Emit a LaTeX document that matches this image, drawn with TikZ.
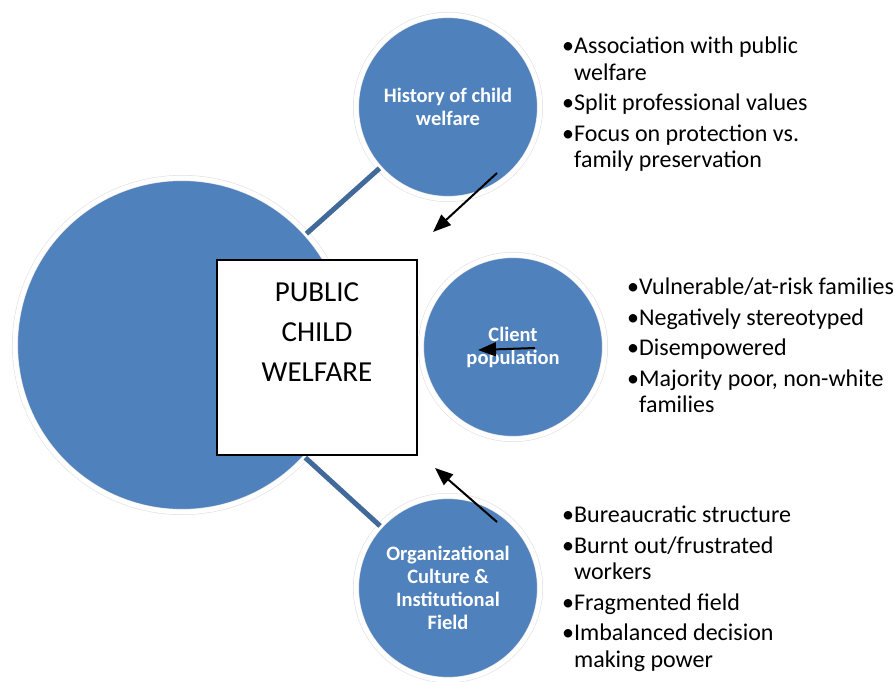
\documentclass[tikz,border=0pt]{standalone}
\usepackage{fontspec}
\setmainfont{Carlito}
\usetikzlibrary{arrows.meta, positioning}

\definecolor{circblue}{HTML}{4F81BD}
\definecolor{linkblue}{HTML}{41699A}
\newcommand{\bul}{\textbullet}
\newcommand{\contind}{\hphantom{\textbullet}}

\begin{document}
\begin{tikzpicture}[x=1pt, y=-1pt,
        ring/.style={circle, fill=circblue, draw=black!12, double=white, double distance=4.8pt, line width=0.6pt, inner sep=0pt, outer sep=0pt},
        topic/.style={ring, minimum size=184pt, align=center, text=white, font=\fontsize{20.5}{23}\selectfont\bfseries},
        link/.style={draw=linkblue, line width=5pt},
        push/.style={-{Triangle[length=18pt, width=14pt]}, line width=2pt},
        notes/.style={align=left, anchor=north west, inner sep=0pt, font=\fontsize{24}{26.5}\selectfont}
    ]
        \useasboundingbox (0,0) rectangle (895,682);
        \node[ring, minimum size=334pt] (core) at (182,345) {};
        \node[topic] (history) at (448,107) {History of child\\welfare};
        \node[topic] (client) at (513,347) {Client\\population};
        \node[topic] (culture) at (448,588) {Organizational\\Culture \&\\Institutional\\Field};
        \draw[link] (core) -- (history);
        \draw[link] (core) -- (culture);

        \node[draw, fill=white, line width=1.2pt, minimum width=200pt, minimum height=195pt] (box) at (317,357.5) {};
        \node[font=\fontsize{29}{40}\selectfont, align=center] (title) at (317,332) {PUBLIC\\CHILD\\WELFARE};

        % arrows pointing at the box
        \coordinate (h0) at (497,173);
        \coordinate (h1) at (433,232);
        \coordinate (c0) at (535,348);
        \coordinate (c1) at (478,350);
        \coordinate (o0) at (497,522);
        \coordinate (o1) at (435,468);
        \draw[push] (h0) -- (h1);
        \draw[push] (c0) -- (c1);
        \draw[push] (o0) -- (o1);

        \node[notes] (histnotes) at (562,37) {\bul Association with public\\\contind welfare\\[4pt]\bul Split professional values\\[4pt]\bul Focus on protection vs.\\\contind family preservation};
        \node[notes] (clientnotes) at (627,278) {\bul Vulnerable/at-risk families\\[4pt]\bul Negatively stereotyped\\[4pt]\bul Disempowered\\[4pt]\bul Majority poor, non-white\\\contind families};
        \node[notes] (culturenotes) at (562,506) {\bul Bureaucratic structure\\[4pt]\bul Burnt out/frustrated\\\contind workers\\[4pt]\bul Fragmented field\\[4pt]\bul Imbalanced decision\\\contind making power};
    \end{tikzpicture}
\end{document}
